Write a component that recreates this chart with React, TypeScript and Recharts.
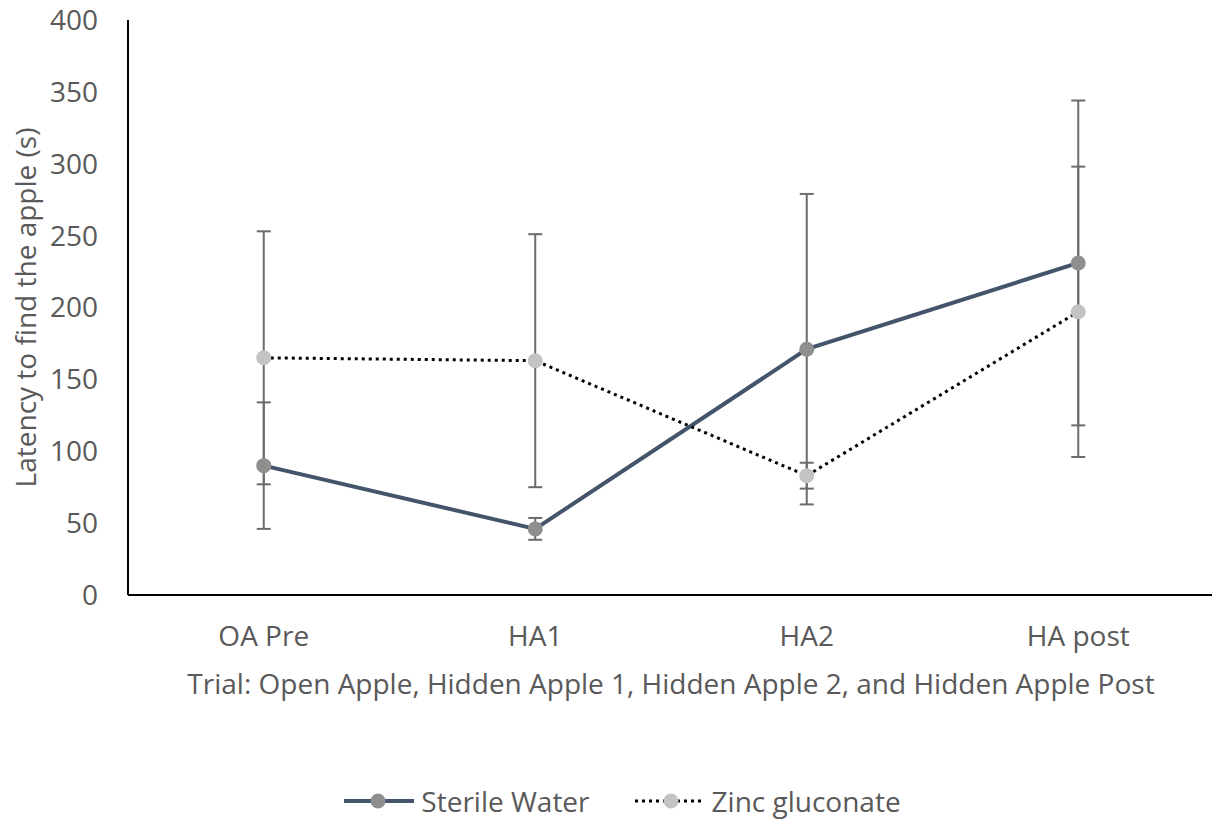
import React from 'react';
import { LineChart, Line, XAxis, YAxis, ErrorBar, Legend } from 'recharts';

const trials: string[] = ['OA Pre', 'HA1', 'HA2', 'HA post'];
const sterileWater: number[] = [90, 46, 171, 231];
const sterileWaterErr: number[] = [44, 7.6, 108, 113];
const zincGluconate: number[] = [165, 163, 83, 197];
const zincGluconateErr: number[] = [88, 88, 9, 101];
const yTicks: number[] = [0, 50, 100, 150, 200, 250, 300, 350, 400];

const TEXT = '#595959';
const FONT = '"Open Sans", "Noto Sans", sans-serif';
const FS = 28;
const WATER_LINE = '#44546a';
const WATER_DOT = '#8f8f8f';
const ZINC_DOT = '#c3c3c3';
const ERR = '#6b6b6b';

const data = trials.map((t, i) => ({
    x: i,
    name: t,
    water: sterileWater[i],
    waterErr: sterileWaterErr[i],
    zinc: zincGluconate[i],
    zincErr: zincGluconateErr[i],
}));

// legend drawn by hand so the icons look like the Excel ones
const LegendBox = () => (
    <div style={{ height: 40, display: 'flex', justifyContent: 'center', alignItems: 'center', paddingLeft: 33, fontFamily: FONT, fontSize: FS, color: TEXT }}>
        <svg width={70} height={20} style={{ marginRight: 7 }}>
            <line x1={0} y1={10} x2={70} y2={10} stroke={WATER_LINE} strokeWidth={4} />
            <circle cx={34} cy={10} r={7.5} fill={WATER_DOT} />
        </svg>
        <span style={{ marginRight: 45 }}>Sterile Water</span>
        <svg width={69} height={20} style={{ marginRight: 8 }}>
            <line x1={0} y1={10} x2={69} y2={10} stroke="#000" strokeWidth={3} strokeDasharray="3 4" />
            <circle cx={36} cy={10} r={7.5} fill={ZINC_DOT} />
        </svg>
        <span>Zinc gluconate</span>
    </div>
);

const YLabel = (props: any) => {
    const vb = props.viewBox;
    const cx = 25;
    const cy = vb.y + vb.height / 2;
    return (
        <text x={cx} y={cy} transform={`rotate(-90, ${cx}, ${cy})`} textAnchor="middle" dominantBaseline="central"
            fill={TEXT} fontFamily={FONT} fontSize={FS}>
            Latency to find the apple (s)
        </text>
    );
};

const App: React.FC = () => {
    return (
        <div style={{ position: 'absolute', left: 0, top: 0, width: 1212, height: 820, overflow: 'hidden', background: '#fff' }}>
            <LineChart width={1214} height={820} data={data} margin={{ top: 20, right: 0, left: 0, bottom: 0 }}>
                {/* axes */}
                <XAxis dataKey="x" type="number" domain={[-0.5, 3.5]} ticks={[0, 1, 2, 3]}
                    tickFormatter={(v: number) => trials[v]} height={185}
                    axisLine={{ stroke: '#000', strokeWidth: 2 }} tickLine={false} tickSize={0} tickMargin={31}
                    tick={{ fill: TEXT, fontFamily: FONT, fontSize: FS }}
                    label={{ value: 'Trial: Open Apple, Hidden Apple 1, Hidden Apple 2, and Hidden Apple Post', position: 'insideTop', offset: 79, fill: TEXT, fontFamily: FONT, fontSize: FS }} />
                <YAxis domain={[0, 400]} ticks={yTicks} width={128}
                    axisLine={{ stroke: '#000', strokeWidth: 2 }} tickLine={false} tickSize={0} tickMargin={30}
                    tick={{ fill: TEXT, fontFamily: FONT, fontSize: FS }}
                    label={<YLabel />} />
                <Legend verticalAlign="bottom" content={<LegendBox />} wrapperStyle={{ left: 0, width: 1212, bottom: -1 }} />

                {/* series */}
                <Line dataKey="water" stroke={WATER_LINE} strokeWidth={4}
                    dot={{ r: 7.5, fill: WATER_DOT, stroke: 'none', strokeWidth: 0 }} activeDot={false} isAnimationActive={false}>
                    <ErrorBar dataKey="waterErr" direction="y" width={7} stroke={ERR} strokeWidth={2} />
                </Line>
                <Line dataKey="zinc" stroke="#000" strokeWidth={3} strokeDasharray="3 4"
                    dot={{ r: 7.5, fill: ZINC_DOT, stroke: 'none', strokeWidth: 0, strokeDasharray: '0' }} activeDot={false} isAnimationActive={false}>
                    <ErrorBar dataKey="zincErr" direction="y" width={7} stroke={ERR} strokeWidth={2} />
                </Line>
            </LineChart>
        </div>
    );
};

export default App;
